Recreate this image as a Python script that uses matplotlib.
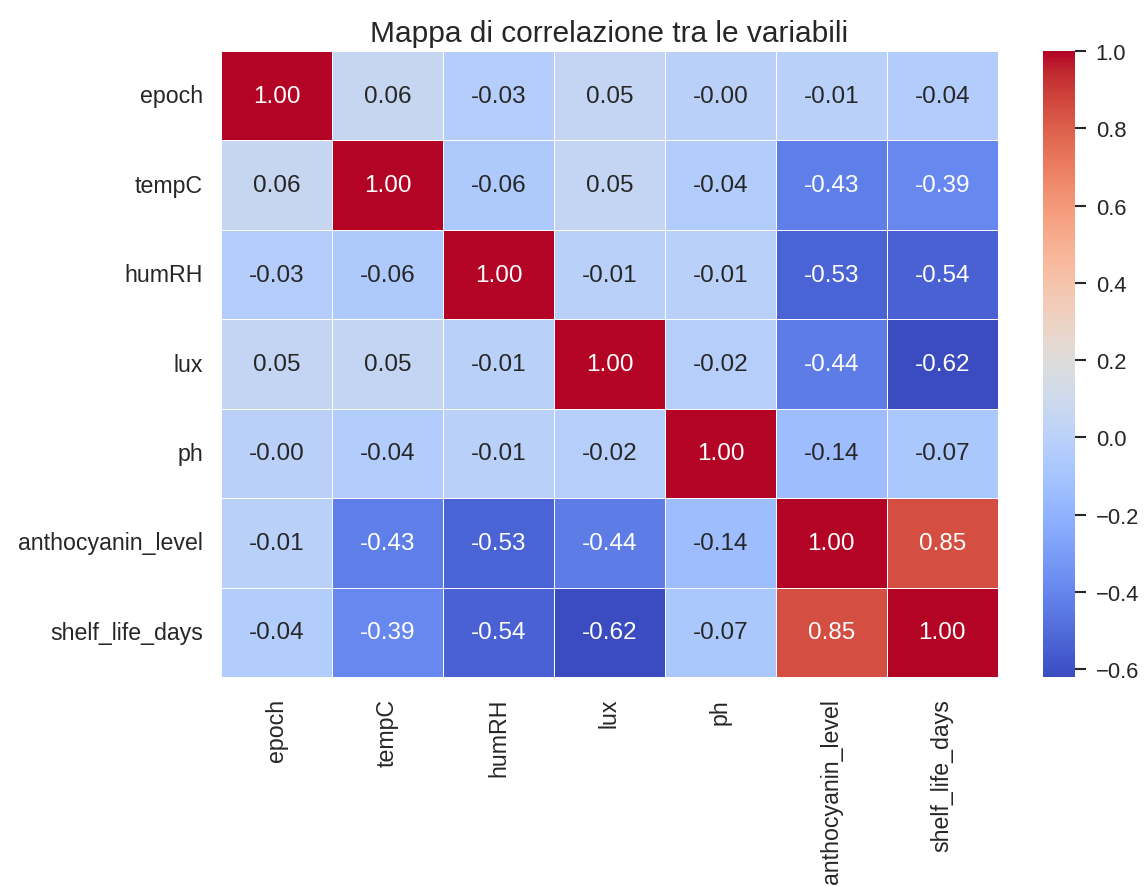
import matplotlib
matplotlib.use("Agg")
import matplotlib.pyplot as plt
import seaborn as sns
import numpy as np
import pandas as pd

variables = ["epoch", "tempC", "humRH", "lux", "ph", "anthocyanin_level", "shelf_life_days"]
row_epoch = [1.00, 0.06, -0.03, 0.05, -0.001, -0.01, -0.04]
row_tempC = [0.06, 1.00, -0.06, 0.05, -0.04, -0.43, -0.39]
row_humRH = [-0.03, -0.06, 1.00, -0.01, -0.01, -0.53, -0.54]
row_lux = [0.05, 0.05, -0.01, 1.00, -0.02, -0.44, -0.62]
row_ph = [-0.001, -0.04, -0.01, -0.02, 1.00, -0.14, -0.07]
row_antho = [-0.01, -0.43, -0.53, -0.44, -0.14, 1.00, 0.85]
row_shelf = [-0.04, -0.39, -0.54, -0.62, -0.07, 0.85, 1.00]
title = "Mappa di correlazione tra le variabili"

corr = pd.DataFrame([row_epoch, row_tempC, row_humRH, row_lux, row_ph, row_antho, row_shelf],
                    index=variables, columns=variables)

sns.set_theme()
plt.rcParams['font.family'] = ['Liberation Sans', 'DejaVu Sans']

fig = plt.figure(figsize=(11.44, 8.87), dpi=100)
ax = fig.add_axes([0.1932, 0.2356, 0.679, 0.7058])
cax = fig.add_axes([0.9117, 0.2356, 0.028, 0.7058])
sns.heatmap(corr, annot=True, fmt=".2f", cmap="coolwarm", linewidths=0.5,
            ax=ax, cbar_ax=cax, annot_kws={"fontsize": 17.5})
ax.set_title(title, fontsize=21.5, color="#262626", pad=7)
ax.tick_params(axis="x", labelsize=16.7, rotation=90, pad=9, labelcolor="#262626")
ax.tick_params(axis="y", labelsize=16.7, rotation=0, pad=7, labelcolor="#262626")
cax.tick_params(labelsize=15.8, length=8, width=1.5, pad=7, color="#262626", labelcolor="#262626")
fig.savefig("out.png", dpi=100)
